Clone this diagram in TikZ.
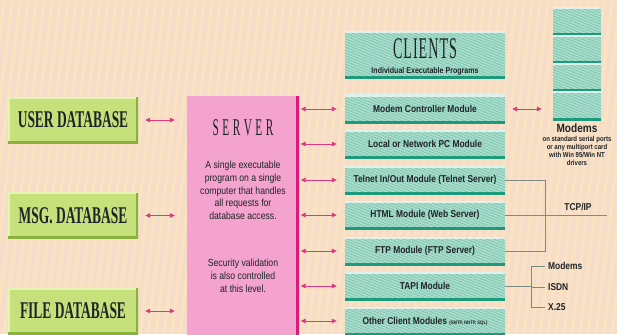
\documentclass[tikz,border=0pt]{standalone}
\usepackage{fontspec}
\setmainfont{Liberation Sans}
\newfontfamily\narrow[FakeStretch=0.84]{Liberation Sans}
\newfontfamily\dbfont[FakeStretch=0.56]{Liberation Serif}
\newfontfamily\ttlfont[FakeStretch=0.47]{Liberation Serif}
\usetikzlibrary{patterns,patterns.meta,arrows.meta}
\definecolor{bg}{HTML}{F6DCCB}
\definecolor{bgstripe}{HTML}{F9E4BF}
\definecolor{dbfill}{HTML}{C6E07C}
\definecolor{dbdark}{HTML}{88B23C}
\definecolor{dblight}{HTML}{E4F2B4}
\definecolor{srvfill}{HTML}{F3A3CD}
\definecolor{srvdark}{HTML}{D81B7C}
\definecolor{tealfill}{HTML}{A9DDCC}
\definecolor{tealhatch}{HTML}{7CC3AD}
\definecolor{tealdark}{HTML}{1C9A7C}
\definecolor{teallight}{HTML}{DDF2EA}
\definecolor{arrowc}{HTML}{E0357F}
\definecolor{txt}{HTML}{1F2428}
\definecolor{linec}{HTML}{7E8A84}
\tikzset{
  dbbox/.style={rectangle, minimum width=130pt, minimum height=46pt, inner sep=0pt,
    fill=dbfill, text=txt, font=\fontsize{24}{24}\dbfont\bfseries,
    path picture={
      \draw[dblight, line width=3pt] (path picture bounding box.south west) -- (path picture bounding box.north west) -- (path picture bounding box.north east);
      \draw[dbdark, line width=5pt] (path picture bounding box.south west) -- (path picture bounding box.south east) -- (path picture bounding box.north east);
    }},
  modbox/.style={rectangle, minimum width=160pt, minimum height=28pt, inner sep=0pt,
    fill=tealfill, text=txt, font=\fontsize{10}{10}\narrow\bfseries,
    path picture={
      \fill[pattern={Lines[angle=-22, distance=2.6pt, line width=0.7pt]}, pattern color=tealhatch]
        (path picture bounding box.south west) rectangle (path picture bounding box.north east);
      \draw[teallight, line width=3pt] (path picture bounding box.north west) -- (path picture bounding box.north east);
      \draw[tealdark, line width=5pt] (path picture bounding box.south west) -- (path picture bounding box.south east);
    }},
  cellbox/.style={modbox, minimum width=48pt, minimum height=28pt},
  srvbox/.style={rectangle, minimum width=112pt, minimum height=244pt, inner sep=0pt,
    fill=srvfill,
    path picture={
      \draw[srvdark, line width=6pt] (path picture bounding box.south east) -- (path picture bounding box.north east);
    }},
  dbl/.style={draw=arrowc, line width=0.8pt, {Triangle[length=5pt,width=4.5pt]}-{Triangle[length=5pt,width=4.5pt]}},
  conn/.style={draw=linec, line width=1pt},
  lbl/.style={text=txt, inner sep=0pt, font=\fontsize{10}{10}\narrow\bfseries},
}
\begin{document}
\begin{tikzpicture}[x=1pt,y=-1pt]
\useasboundingbox (0,0) rectangle (617,334);
\fill[bg] (0,0) rectangle (617,334);
\begin{scope}
\clip (0,0) rectangle (617,334);
\foreach \i in {-60,-52,...,620}
  \draw[bgstripe, line width=3.5pt] (\i,334) -- (\i+40,0);
\end{scope}

% databases
\node[dbbox] (userdb) at (73,120) {USER DATABASE};
\node[dbbox] (msgdb) at (73,215.5) {MSG. DATABASE};
\node[dbbox] (filedb) at (73,311) {FILE DATABASE};

% server
\node[srvbox] (server) at (243,218) {};
\node[text=txt, inner sep=0pt, anchor=base, font=\fontsize{24}{24}\ttlfont] (srvtitle) at (243,135) {S\kern3.5pt E\kern3.5pt R\kern3.5pt V\kern3.5pt E\kern3.5pt R};
\node[text=txt, inner sep=0pt, align=center, font=\fontsize{10.3}{12.7}\narrow] (srvbody1) at (243,190.5)
  {A single executable\\program on a single\\computer that handles\\all requests for\\database access.};
\node[text=txt, inner sep=0pt, align=center, font=\fontsize{10.3}{12.7}\narrow] (srvbody2) at (243,276)
  {Security validation\\is also controlled\\at this level.};

% clients
\node[modbox, minimum height=47pt] (clients) at (425,55.5) {};
\node[text=txt, inner sep=0pt, anchor=base, font=\fontsize{30}{30}\ttlfont] (cltitle) at (425,59) {C\kern1pt L\kern1pt I\kern1pt E\kern1pt N\kern1pt T\kern1pt S};
\node[text=txt, inner sep=0pt, anchor=base, font=\fontsize{8.4}{8.4}\narrow\bfseries] (clsub) at (425,73.2) {Individual Executable Programs};

\node[modbox] (m1) at (425,109) {Modem Controller Module};
\node[modbox] (m2) at (425,144) {Local or Network PC Module};
\node[modbox] (m3) at (425,180) {Telnet In/Out Module (Telnet Server)};
\node[modbox] (m4) at (425,215) {HTML Module (Web Server)};
\node[modbox] (m5) at (425,251) {FTP Module (FTP Server)};
\node[modbox] (m6) at (425,286) {TAPI Module};
\node[modbox] (m7) at (425,321) {Other Client Modules {\fontsize{5}{5}\selectfont(SMTP, NNTP, SQL)}};

% modem stack
\node[cellbox] (c1) at (577,22) {};
\node[cellbox] (c2) at (577,50) {};
\node[cellbox] (c3) at (577,78) {};
\node[cellbox] (c4) at (577,106) {};
\node[text=txt, inner sep=0pt, font=\fontsize{12}{12}\narrow\bfseries] (modlbl) at (577,128) {Modems};
\node[text=txt, inner sep=0pt, align=center, font=\fontsize{7.2}{8}\narrow\bfseries] (modsub) at (577,151)
  {on standard serial ports\\or any multiport card\\with Win 95/Win NT\\drivers};

% arrows db <-> server
\foreach \d in {userdb,msgdb,filedb}
  \draw[dbl, shorten <=7pt, shorten >=12pt] (\d.east) -- (\d.east -| server.west);
% arrows server <-> modules
\foreach \m in {m1,m2,m3,m4,m5,m6,m7}
  \draw[dbl, shorten <=1.5pt, shorten >=8pt] (server.east |- \m.west) -- (\m.west);
% modules <-> modems
\draw[dbl, shorten <=7pt, shorten >=11pt] (m1.east) -- (m1.east -| c4.west);

% TCP/IP bracket
\coordinate (tcpx) at (545,0);
\coordinate (tcpend) at (607,215);
\draw[conn] (m3.east) -- (m3.east -| tcpx) -- (m5.east -| tcpx) -- (m5.east);
\draw[conn] (m4.east) -- (tcpend);
\node[lbl] (tcplbl) at (578,207) {TCP/IP};

% TAPI bracket
\coordinate (tapx) at (531,0);
\node[lbl, anchor=west] (l1) at (548,266) {Modems};
\node[lbl, anchor=west] (l2) at (548,287) {ISDN};
\node[lbl, anchor=west] (l3) at (548,307) {X.25};
\draw[conn] (m6.east) -- (m6.east -| tapx);
\draw[conn] (l1.west -| tapx) -- (l3.west -| tapx);
\foreach \l in {l1,l2,l3}
  \draw[conn, shorten >=3pt] (\l.west -| tapx) -- (\l.west);
\end{tikzpicture}
\end{document}
